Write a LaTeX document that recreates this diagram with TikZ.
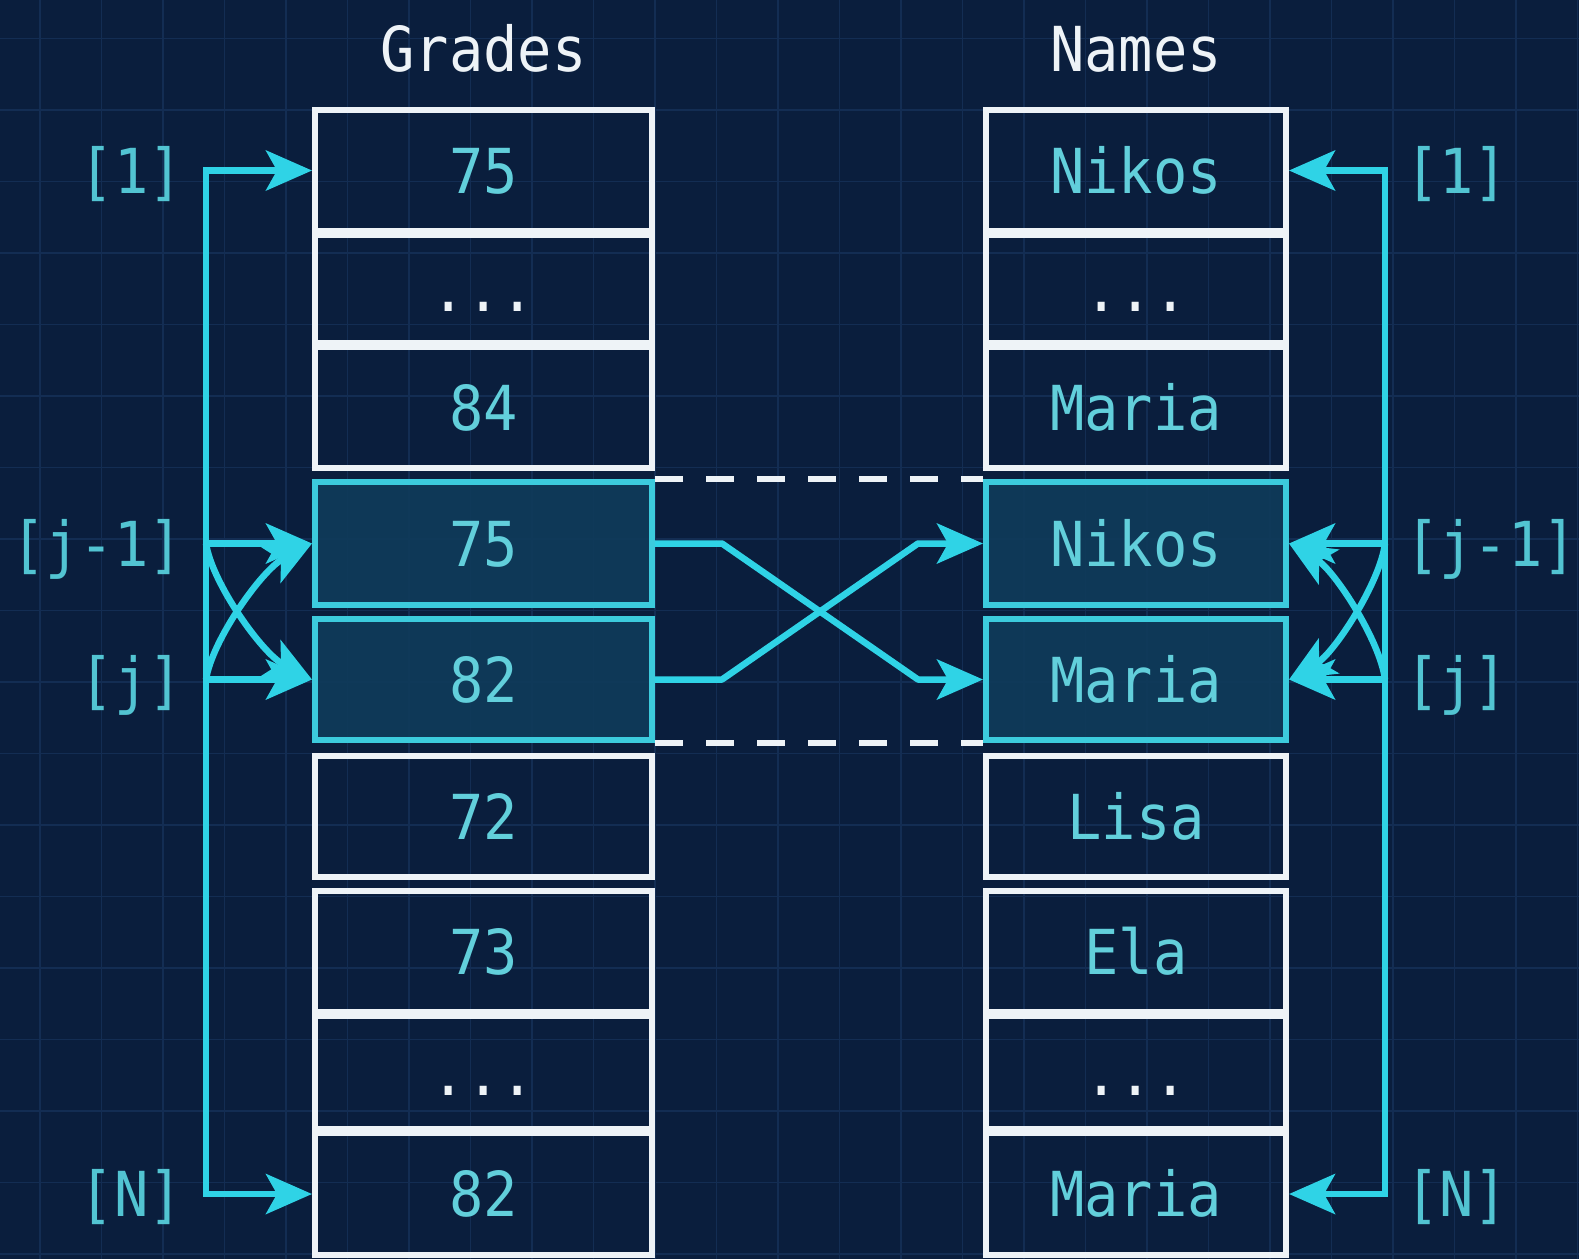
\documentclass[tikz,border=0pt]{standalone}
\usepackage{fontspec}
\newfontfamily\codefont[FakeStretch=0.92]{DejaVu Sans Mono}
\usetikzlibrary{arrows.meta}

\definecolor{bgnavy}{HTML}{0A1E3D}
\definecolor{gridblue}{HTML}{132D53}
\definecolor{boxwhite}{HTML}{EEF3F7}
\definecolor{wire}{HTML}{2FD3E6}
\definecolor{valcyan}{HTML}{62CFDB}
\definecolor{hlfill}{HTML}{0F3B5A}
\definecolor{hledge}{HTML}{3CCBDD}
\definecolor{idxcyan}{HTML}{52C4D2}

\begin{document}
\begin{tikzpicture}[x=1pt,y=-1pt,
  txt/.style={font=\codefont\fontsize{62}{70}\selectfont,
    text height=45pt, text depth=0pt, inner sep=0pt},
  cell/.style={txt, draw=boxwhite, line width=6pt, text=valcyan},
  hot/.style={cell, draw=hledge, fill=hlfill, fill opacity=0.9, text opacity=1},
  dots/.style={text=boxwhite},
  gcol/.style={minimum width=337pt},
  ncol/.style={minimum width=300pt},
  title/.style={txt, text=boxwhite, anchor=base},
  idx/.style={txt, text=idxcyan},
  wireline/.style={draw=wire, line width=6.5pt, line join=round},
  railline/.style={wireline, line cap=rect},
  conn/.style={wireline, -{Stealth[length=46pt,width=40pt,inset=11pt]}},
  dashline/.style={draw=boxwhite, line width=6pt, dash pattern=on 28pt off 23pt},
  gridline/.style={draw=gridblue, line width=1.3pt}
]
% canvas and background grid
\fill[bgnavy] (0,0) rectangle (1579,1259);
\useasboundingbox (0,0) rectangle (1579,1259);
\foreach \gx in {40,101.5,...,1579} \draw[gridline] (\gx,0) -- (\gx,1259);
\foreach \gy in {38.5,110,...,1259} \draw[gridline] (0,\gy) -- (1579,\gy);

% column titles
\node[title] (tg) at (483.5,71) {Grades};
\node[title] (tn) at (1136,71) {Names};

% Grades array
\node[cell,gcol,minimum height=121pt] (g1) at (483.5,170.5) {75};
\node[cell,gcol,dots,minimum height=108pt] (g2) at (483.5,289) {...};
\node[cell,gcol,minimum height=121pt] (g3) at (483.5,407.5) {84};
\node[hot,gcol,minimum height=123pt] (g4) at (483.5,543.5) {75};
\node[hot,gcol,minimum height=121pt] (g5) at (483.5,679.5) {82};
\node[cell,gcol,minimum height=121pt] (g6) at (483.5,816.5) {72};
\node[cell,gcol,minimum height=121pt] (g7) at (483.5,951.5) {73};
\node[cell,gcol,dots,minimum height=113pt] (g8) at (483.5,1072.5) {...};
\node[cell,gcol,minimum height=122pt] (g9) at (483.5,1194) {82};

% Names array
\node[cell,ncol,minimum height=121pt] (n1) at (1136,170.5) {Nikos};
\node[cell,ncol,dots,minimum height=108pt] (n2) at (1136,289) {...};
\node[cell,ncol,minimum height=121pt] (n3) at (1136,407.5) {Maria};
\node[hot,ncol,minimum height=123pt] (n4) at (1136,543.5) {Nikos};
\node[hot,ncol,minimum height=121pt] (n5) at (1136,679.5) {Maria};
\node[cell,ncol,minimum height=121pt] (n6) at (1136,816.5) {Lisa};
\node[cell,ncol,minimum height=121pt] (n7) at (1136,951.5) {Ela};
\node[cell,ncol,dots,minimum height=113pt] (n8) at (1136,1072.5) {...};
\node[cell,ncol,minimum height=122pt] (n9) at (1136,1194) {Maria};

% dashed band joining the swapped rows
\draw[dashline] (g4.north east) -- (n4.north west);
\draw[dashline] (g5.south east) -- (n5.south west);

% row correspondence after the swap
\draw[conn] (g4.east) -- (722,543.5) -- (918,679.5) -- (n5.west);
\draw[conn] (g5.east) -- (722,679.5) -- (918,543.5) -- (n4.west);

% left index rail
\coordinate (la) at (206,170.5);
\coordinate (lb) at (206,543.5);
\coordinate (lc) at (206,679.5);
\coordinate (ld) at (206,1194);
\draw[railline] (la) -- (ld);
\draw[conn] (la) -- (g1.west);
\draw[conn] (lb) -- (g4.west);
\draw[conn] (lc) -- (g5.west);
\draw[conn] (ld) -- (g9.west);
\draw[conn] (lb) .. controls (212,583) and (262,653) .. (g5.west);
\draw[conn] (lc) .. controls (212,640) and (262,570) .. (g4.west);

% right index rail
\coordinate (ra) at (1385,170.5);
\coordinate (rb) at (1385,543.5);
\coordinate (rc) at (1385,679.5);
\coordinate (rd) at (1385,1194);
\draw[railline] (ra) -- (rd);
\draw[conn] (ra) -- (n1.east);
\draw[conn] (rb) -- (n4.east);
\draw[conn] (rc) -- (n5.east);
\draw[conn] (rd) -- (n9.east);
\draw[conn] (rb) .. controls (1380,583) and (1334,653) .. (n5.east);
\draw[conn] (rc) .. controls (1380,640) and (1334,570) .. (n4.east);

% index labels
\node[idx,anchor=east] (il1) at (183,170.5) {[1]};
\node[idx,anchor=east] (il2) at (183,543.5) {[j-1]};
\node[idx,anchor=east] (il3) at (183,679.5) {[j]};
\node[idx,anchor=east] (il4) at (183,1194) {[N]};
\node[idx,anchor=west] (ir1) at (1405,170.5) {[1]};
\node[idx,anchor=west] (ir2) at (1405,543.5) {[j-1]};
\node[idx,anchor=west] (ir3) at (1405,679.5) {[j]};
\node[idx,anchor=west] (ir4) at (1405,1194) {[N]};
\end{tikzpicture}
\end{document}
